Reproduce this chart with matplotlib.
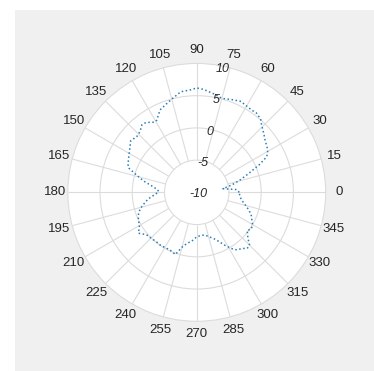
import matplotlib.pyplot as plt
import matplotlib.patches as mpatches
import numpy as np

# measured pattern (dB) against azimuth (deg)
theta_deg = [0, 4, 8, 12, 16, 20, 24, 27, 30, 33, 37, 41, 46, 49, 53, 56, 61, 64,
             69, 75, 80, 86, 90, 94, 99, 104, 109, 114, 119, 121, 126, 129, 133,
             137, 142, 146, 150, 155, 160, 164, 168, 172, 176, 179, 183, 187, 190,
             196, 200, 205, 210, 215, 220, 226, 231, 236, 241, 246, 251, 255, 259,
             265, 270, 276, 281, 286, 290, 294, 298, 302, 305, 309, 312, 315, 318,
             323, 326, 330, 334, 338, 342, 346, 350, 355, 360]
r_db = [-3.4, -3.8, -5.9, -4.4, -3.0, -1.4, 0.7, 2.2, 2.7, 3.0, 3.3, 3.8, 4.5, 5.1,
        5.4, 5.35, 5.5, 5.7, 5.4, 5.1, 5.5, 6.0, 6.2, 5.9, 5.8, 5.1, 4.5, 4.0, 2.8,
        2.7, 3.4, 3.5, 2.9, 2.7, 3.0, 2.5, 2.1, 1.7, 1.35, -0.3, -1.6, -3.0, -3.9,
        -4.1, -3.5, -2.6, -2.0, -0.9, -0.4, 0.0, 0.25, 1.05, 0.2, 0.0, -0.1, -0.05,
        -0.15, -0.1, 0.2, -1.2, -1.9, -2.5, -3.1, -3.3, -3.25, -2.8, -2.4, -1.7,
        -0.7, 0.3, 0.9, 1.2, 1.7, 1.6, 0.7, -0.2, 0.2, 0.0, -0.5, -0.9, -1.6, -2.3,
        -2.9, -3.3, -3.4]

r_ticks = [-10, -5, 0, 5, 10]
theta_ticks = list(range(0, 360, 15))

grid_col = '#dcdcdc'
plt.rcParams['font.family'] = ['Liberation Sans', 'DejaVu Sans']

fig = plt.figure(figsize=(3.74, 3.71), dpi=100)
fig.patch.set_facecolor('white')
fig.patches.append(mpatches.Rectangle((15 / 374, 0), 1, 1 - 10 / 371,
                                      transform=fig.transFigure,
                                      facecolor='#f0f0f0', edgecolor='none', zorder=-1))

ax = fig.add_axes([0.181, 0.134, 0.690, 0.695], projection='polar')
ax.set_facecolor('white')
ax.set_rlim(-10, 10)
ax.set_rticks([-5, 0, 5])
ax.set_yticklabels([])
ax.yaxis.grid(True, color=grid_col, linewidth=0.8)
ax.xaxis.grid(False)

# spokes stop at the -5 ring, leaving the centre clear
spokes = np.deg2rad(theta_ticks)
ax.vlines(spokes, -5, 10, color=grid_col, linewidth=0.8, zorder=1)

ax.set_thetagrids(theta_ticks, [str(t) for t in theta_ticks], fontsize=9.5, color='#262626')
ax.tick_params(axis='x', pad=-1)
ax.spines['polar'].set_color(grid_col)
ax.spines['polar'].set_linewidth(0.8)

for rv in r_ticks[1:]:
    ax.text(np.deg2rad(78), rv - 0.4, str(rv), ha='center', va='center',
            fontsize=9, style='italic', color='#262626', zorder=3)
ax.text(np.deg2rad(-40), -9.6, str(r_ticks[0]), ha='center', va='center',
        fontsize=9, style='italic', color='#262626', zorder=3)

ax.plot(np.deg2rad(theta_deg), r_db, linestyle=':', color='#2a7db5',
        linewidth=1.1, zorder=2)

fig.savefig('out.png', dpi=100, facecolor=fig.get_facecolor())
